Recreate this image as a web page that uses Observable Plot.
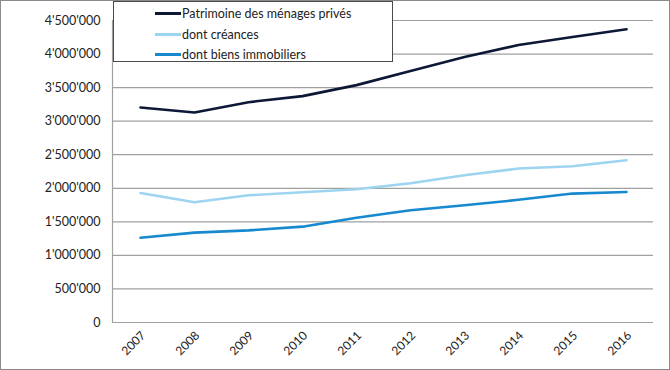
<!DOCTYPE html>
<html>
<head>
<meta charset="utf-8">
<script src="https://cdn.jsdelivr.net/npm/d3@7"></script>
<script src="https://cdn.jsdelivr.net/npm/@observablehq/plot@0.6"></script>
<style>
  html, body { margin: 0; padding: 0; background: #fff; }
  #wrap { position: relative; width: 670px; height: 370px; overflow: hidden; font-family: Lato, "Open Sans", sans-serif; }
  #frame { position: absolute; left: 0; top: 0; width: 670px; height: 370px; box-sizing: border-box; border: 1px solid #8a8a8a; pointer-events: none; }
  #legend { position: absolute; left: 113px; top: 1px; width: 280px; height: 61px; box-sizing: border-box; border: 1px solid #4a4a4a; background: #fff; }
  .row { position: absolute; left: 41px; height: 14px; display: flex; align-items: center; font-size: 12.5px; color: #222; }
  .sw { width: 26px; height: 3px; margin-right: 1px; }
</style>
</head>
<body>
<div id="wrap"><div id="chart"></div><div id="legend"></div><div id="frame"></div></div>
<script>
const years = [2007, 2008, 2009, 2010, 2011, 2012, 2013, 2014, 2015, 2016];
const patrimoine = [3204000, 3130000, 3283000, 3373000, 3537000, 3746000, 3955000, 4134000, 4254000, 4369000];
const creances = [1930000, 1791000, 1896000, 1940000, 1985000, 2075000, 2194000, 2294000, 2328000, 2418000];
const immobiliers = [1264000, 1339000, 1373000, 1428000, 1560000, 1672000, 1746000, 1828000, 1921000, 1945000];
const seriesNames = ["Patrimoine des ménages privés", "dont créances", "dont biens immobiliers"];
const seriesColors = ["#0c1836", "#9dd4f0", "#1689cf"];
const yTicks = [0, 500000, 1000000, 1500000, 2000000, 2500000, 3000000, 3500000, 4000000, 4500000];

const seriesValues = [patrimoine, creances, immobiliers];
const data = [];
seriesNames.forEach((name, i) => {
  years.forEach((yr, j) => data.push({series: name, year: String(yr), value: seriesValues[i][j]}));
});

const fmt = v => d3.format(",")(v).replace(/,/g, "'");

const leftLine = (typeof Plot.frame === "function")
  ? Plot.frame({anchor: "left", stroke: "#a0a0a0", strokeWidth: 1.2})
  : null;

const chart = Plot.plot({
  width: 670,
  height: 370,
  marginLeft: 112,
  marginRight: 17,
  marginTop: 20,
  marginBottom: 48,
  style: {fontFamily: "Lato, 'Open Sans', sans-serif", fontSize: "12.5px", color: "#222", background: "transparent"},
  x: {type: "point", domain: years.map(String), padding: 0.5, label: null},
  y: {domain: [0, 4500000], label: null},
  color: {domain: seriesNames, range: seriesColors},
  marks: [
    Plot.gridY(yTicks, {stroke: "#a0a0a0", strokeOpacity: 1, strokeWidth: 1.2}),
    leftLine,
    Plot.axisY(yTicks, {tickSize: 0, tickPadding: 12, tickFormat: fmt, label: null, fontSize: 12.5}),
    Plot.axisX({tickSize: 0, tickRotate: -45, tickPadding: 11, label: null, fontSize: 12, dx: 3}),
    Plot.line(data, {x: "year", y: "value", z: "series", stroke: "series", strokeWidth: 2.6, curve: "linear"})
  ]
});
document.getElementById("chart").appendChild(chart);

const legend = document.getElementById("legend");
const rowsY = [4, 25, 45];
seriesNames.forEach((name, i) => {
  const row = document.createElement("div");
  row.className = "row";
  row.style.top = rowsY[i] + "px";
  const sw = document.createElement("span");
  sw.className = "sw";
  sw.style.background = seriesColors[i];
  const t = document.createElement("span");
  t.textContent = name;
  row.appendChild(sw);
  row.appendChild(t);
  legend.appendChild(row);
});
</script>
</body>
</html>
